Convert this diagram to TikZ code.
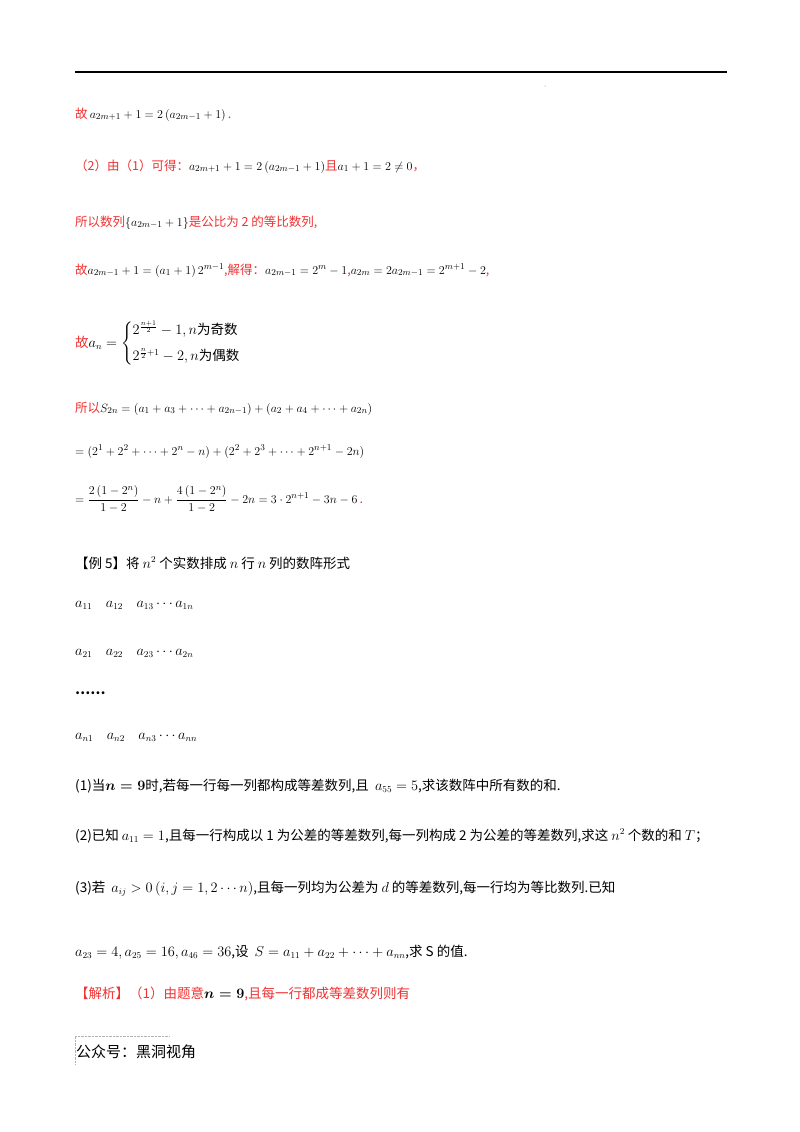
\documentclass[tikz,border=0pt]{standalone}
\usepackage{amsmath}
\usepackage{fontspec}
\newfontfamily\cjk{Noto Sans CJK SC}
\definecolor{rd}{RGB}{240,50,50}
\begin{document}
\begin{tikzpicture}[x=1pt,y=-1pt,
  t/.style={anchor=base west,inner sep=0pt,font=\fontsize{12.5}{14}\selectfont\cjk},
  q/.style={anchor=base west,inner sep=0pt,font=\fontsize{13.5}{15}\selectfont\cjk},
  r/.style={t,text=rd}]
\useasboundingbox (0,0) rectangle (800,1132);
\fill[white] (0,0) rectangle (800,1132);
\draw[line width=1.2pt] (75,72) -- (727,72);
\fill[gray] (545,86) circle (0.5);
\node[r] (l1) at (75,118) {故\,\textcolor{black}{$a_{2m+1}+1=2\left(a_{2m-1}+1\right)$}\,.};
\node[r] (l2) at (75,170) {（2）由（1）可得：\textcolor{black}{$a_{2m+1}+1=2\left(a_{2m-1}+1\right)$}且\textcolor{black}{$a_1+1=2\neq0$}，};
\node[r] (l3) at (75,226) {所以数列\textcolor{black}{$\{a_{2m-1}+1\}$}是公比为 2 的等比数列,};
\node[r] (l4) at (75,274) {故\textcolor{black}{$a_{2m-1}+1=\left(a_1+1\right)2^{m-1}$},解得：\textcolor{black}{$a_{2m-1}=2^m-1$},\textcolor{black}{$a_{2m}=2a_{2m-1}=2^{m+1}-2$},};
\node[r,font=\fontsize{13.5}{15}\selectfont\cjk] (l5) at (75,347) {故\textcolor{black}{$a_n=\begin{cases}2^{\frac{n+1}{2}}-1,n\text{为奇数}\\[8pt] 2^{\frac{n}{2}+1}-2,n\text{为偶数}\end{cases}$}};
\node[r] (l6) at (75,412) {所以\textcolor{black}{$S_{2n}=(a_1+a_3+\cdots+a_{2n-1})+(a_2+a_4+\cdots+a_{2n})$}};
\node[t] (l7) at (75,455) {$=(2^1+2^2+\cdots+2^n-n)+(2^2+2^3+\cdots+2^{n+1}-2n)$};
\node[t] (l8) at (75,503) {$=\dfrac{2\left(1-2^n\right)}{1-2}-n+\dfrac{4\left(1-2^n\right)}{1-2}-2n=3\cdot2^{n+1}-3n-6$\,\textcolor{rd}{.}};
\node[q] (e5) at (75,568) {【例 5】将 $n^2$ 个实数排成 $n$ 行 $n$ 列的数阵形式};
\node[q] (m1) at (75,607) {$a_{11}\quad a_{12}\quad a_{13}\cdots a_{1n}$};
\node[q] (m2) at (75,655) {$a_{21}\quad a_{22}\quad a_{23}\cdots a_{2n}$};
\node[q] (m3) at (75,694) {\textbf{……}};
\node[q] (m4) at (75,739) {$a_{n1}\quad a_{n2}\quad a_{n3}\cdots a_{nn}$};
\node[q] (q1) at (75,790) {(1)当$\boldsymbol{n=9}$时,若每一行每一列都构成等差数列,且\ \ $a_{55}=5$,求该数阵中所有数的和.};
\node[q] (q2) at (75,840) {(2)已知\ $a_{11}=1$,且每一行构成以 1 为公差的等差数列,每一列构成 2 为公差的等差数列,求这 $n^2$ 个数的和 $T$；};
\node[q] (q3) at (75,892) {(3)若\ \ $a_{ij}>0\left(i,j=1,2\cdots n\right)$,且每一列均为公差为 $d$ 的等差数列,每一行均为等比数列.已知};
\node[q] (q4) at (75,956) {$a_{23}=4,a_{25}=16,a_{46}=36$,设\ \ $S=a_{11}+a_{22}+\cdots+a_{nn}$,求 S 的值.};
\node[r,font=\fontsize{13.5}{15}\selectfont\cjk] (an) at (75,998) {【解析】（1）由题意\textcolor{black}{$\boldsymbol{n=9}$},且每一行都成等差数列则有};
\draw[densely dotted,gray!60] (75,1064) -- (75,1036) -- (170,1036);
\node[anchor=base west,inner sep=0pt,font=\fontsize{15}{17}\selectfont\cjk] (gz) at (76,1057) {公众号：黑洞视角};
\end{tikzpicture}
\end{document}
